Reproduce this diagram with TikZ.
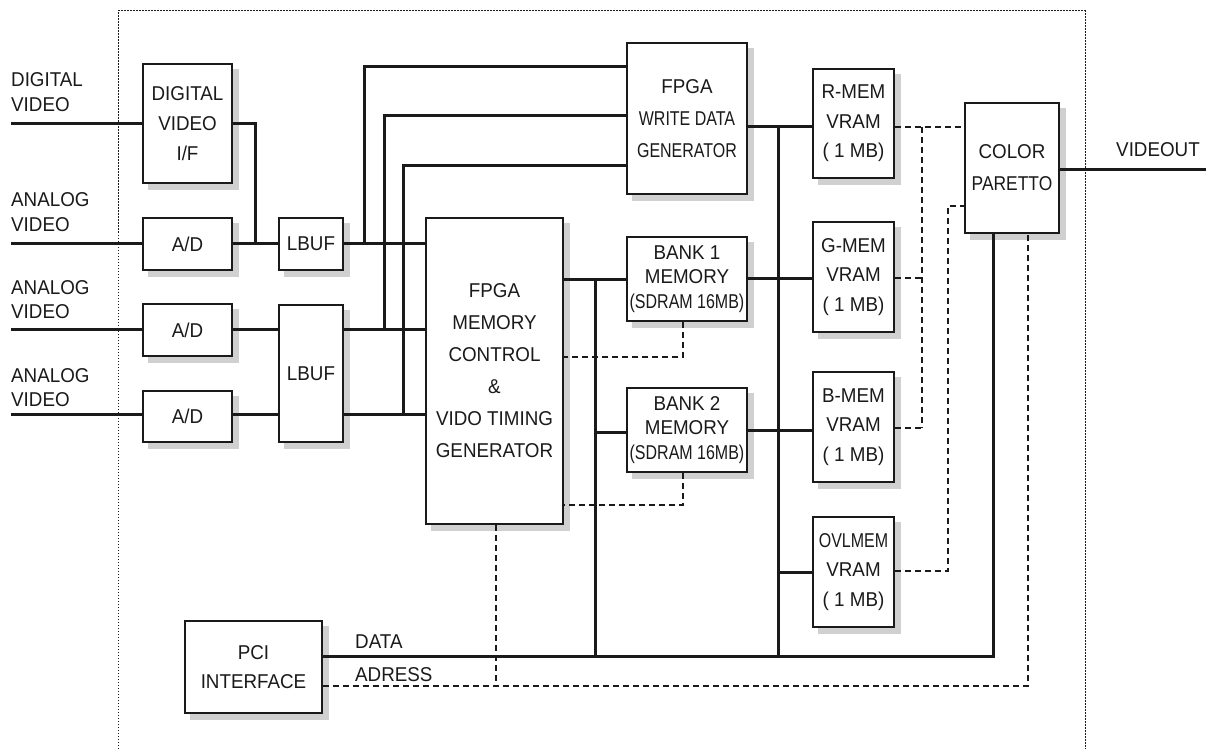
\documentclass[tikz,border=0pt]{standalone}
\usepackage{fontspec}
\setmainfont{Liberation Sans}[FakeStretch=0.94]
\newfontfamily\narrowfont{Liberation Sans}[FakeStretch=0.8]
\newfontfamily\midfont{Liberation Sans}[FakeStretch=0.87]
\usetikzlibrary{backgrounds}
\definecolor{ink}{HTML}{1A1A1A}
\definecolor{shade}{HTML}{D0D0D0}
\begin{document}
\begin{tikzpicture}[x=1pt,y=-1pt,
  box/.style={draw=ink, line width=1.5pt, fill=white, align=center, inner sep=0pt, text=ink,
    font=\fontsize{20}{30}\selectfont},
  wire/.style={draw=ink, line width=3pt},
  ctrl/.style={draw=ink, line width=1.2pt, dash pattern=on 6pt off 4pt},
  framed/.style={draw=ink, line width=1pt, dash pattern=on 1.5pt off 1.5pt},
  lbl/.style={text=ink, inner sep=0pt, anchor=base west, font=\fontsize{20}{25}\selectfont},
  shadowbox/.style={fill=shade, draw=none},
]
\useasboundingbox (0,0) rectangle (1209,749);

% frame
\draw[framed] (118,749) -- (118,11) -- (1085,11) -- (1085,749);

% boxes
\node[box, minimum width=89pt, minimum height=119pt] (dvif) at (187.5,123.5) {DIGITAL\\VIDEO\\I/F};
\node[box, minimum width=89pt, minimum height=52pt] (ad1) at (187.5,244) {A/D};
\node[box, minimum width=89pt, minimum height=52pt] (ad2) at (187.5,330) {A/D};
\node[box, minimum width=89pt, minimum height=51pt] (ad3) at (187.5,416.5) {A/D};
\node[box, minimum width=64pt, minimum height=52pt] (lbuf1) at (311,244) {LBUF};
\node[box, minimum width=64pt, minimum height=137pt] (lbuf2) at (311,373.5) {LBUF};
\node[box, minimum width=120pt, minimum height=151pt, font=\fontsize{20}{32}\selectfont] (wd) at (687,118.5)
  {FPGA\\{\narrowfont WRITE DATA}\\{\narrowfont GENERATOR}};
\node[box, minimum width=137pt, minimum height=306pt, font=\fontsize{20}{32}\selectfont] (mc) at (494.5,371)
  {FPGA\\MEMORY\\CONTROL\\\&\\VIDO TIMING\\GENERATOR};
\node[box, minimum width=120pt, minimum height=84pt, font=\fontsize{20}{24.5}\selectfont] (bank1) at (687,279)
  {BANK 1\\MEMORY\\{\narrowfont (SDRAM 16MB)}};
\node[box, minimum width=120pt, minimum height=84pt, font=\fontsize{20}{24.5}\selectfont] (bank2) at (687,430)
  {BANK 2\\MEMORY\\{\narrowfont (SDRAM 16MB)}};
\node[box, minimum width=81pt, minimum height=109pt, font=\fontsize{20}{29.5}\selectfont] (rmem) at (853.5,123.5)
  {R-MEM\\VRAM\\( 1 MB)};
\node[box, minimum width=81pt, minimum height=110pt, font=\fontsize{20}{29.5}\selectfont] (gmem) at (853.5,277)
  {G-MEM\\VRAM\\( 1 MB)};
\node[box, minimum width=81pt, minimum height=110pt, font=\fontsize{20}{29.5}\selectfont] (bmem) at (853.5,427)
  {B-MEM\\VRAM\\( 1 MB)};
\node[box, minimum width=81pt, minimum height=110pt, font=\fontsize{20}{29.5}\selectfont] (ovl) at (853.5,572)
  {{\narrowfont OVLMEM}\\VRAM\\( 1 MB)};
\node[box, minimum width=94pt, minimum height=130pt, font=\fontsize{20}{32}\selectfont] (color) at (1012,168)
  {COLOR\\{\midfont PARETTO}};
\node[box, minimum width=137pt, minimum height=92pt, font=\fontsize{20}{29}\selectfont] (pci) at (253.5,667)
  {PCI\\INTERFACE};

% shadows and white page, behind everything
\begin{scope}[on background layer]
  \fill[white] (0,0) rectangle (1209,749);
  \foreach \b in {dvif,ad1,ad2,ad3,lbuf1,lbuf2,wd,mc,bank1,bank2,rmem,gmem,bmem,ovl,color,pci}{
    \path[shadowbox] ([shift={(6,6)}]\b.north west) rectangle ([shift={(6,6)}]\b.south east);
  }
\end{scope}

% labels
\node[lbl] (tdv1) at (11,87) {DIGITAL};
\node[lbl] (tdv2) at (11,112) {VIDEO};
\node[lbl] (ta11) at (11,206.5) {ANALOG};
\node[lbl] (ta12) at (11,231.5) {VIDEO};
\node[lbl] (ta21) at (11,294) {ANALOG};
\node[lbl] (ta22) at (11,318.5) {VIDEO};
\node[lbl] (ta31) at (11,382) {ANALOG};
\node[lbl] (ta32) at (11,406.5) {VIDEO};
\node[lbl] (tvo) at (1116,157) {VIDEOUT};
\node[lbl] (tdata) at (355,648) {DATA};
\node[lbl] (taddr) at (355,681) {ADRESS};

% input wires
\coordinate (in0) at (11,124);
\coordinate (in1) at (11,243);
\coordinate (in2) at (11,329);
\coordinate (in3) at (11,414);
\coordinate (j0) at (255,243);
\draw[wire] (in0) -- (in0 -| dvif.west);
\draw[wire] (in1) -- (in1 -| ad1.west);
\draw[wire] (in2) -- (in2 -| ad2.west);
\draw[wire] (in3) -- (in3 -| ad3.west);
\draw[wire] (in0 -| dvif.east) -| (j0);
\draw[wire] (in1 -| ad1.east) -- (in1 -| lbuf1.west);
\draw[wire] (in1 -| lbuf1.east) -- (in1 -| mc.west);
\draw[wire] (in2 -| ad2.east) -- (in2 -| lbuf2.west);
\draw[wire] (in3 -| ad3.east) -- (in3 -| lbuf2.west);
\draw[wire] (in2 -| lbuf2.east) -- (in2 -| mc.west);
\draw[wire] (in3 -| lbuf2.east) -- (in3 -| mc.west);
\coordinate (w1) at (364,67);
\coordinate (w2) at (384,116);
\coordinate (w3) at (403,165);
\draw[wire] (w1 |- in1) -- (w1) -- (w1 -| wd.west);
\draw[wire] (w2 |- in2) -- (w2) -- (w2 -| wd.west);
\draw[wire] (w3 |- in3) -- (w3) -- (w3 -| wd.west);

% memory side
\coordinate (r0) at (778,127);
\coordinate (dat) at (993,656);
\coordinate (m1) at (595,279);
\coordinate (g0) at (778,278);
\coordinate (b2) at (595,432);
\coordinate (b0) at (778,430);
\coordinate (o0) at (778,572);
\coordinate (vo) at (1206,169);
\draw[wire] (r0 -| wd.east) -- (r0 -| rmem.west);
\draw[wire] (pci.east |- dat) -- (dat) -- (color.south -| dat);
\draw[wire] (r0) -- (r0 |- dat);
\draw[wire] (m1 -| mc.east) -- (m1 -| bank1.west);
\draw[wire] (m1) -- (m1 |- dat);
\draw[wire] (g0 -| bank1.east) -- (g0 -| gmem.west);
\draw[wire] (b2) -- (b2 -| bank2.west);
\draw[wire] (b0 -| bank2.east) -- (b0 -| bmem.west);
\draw[wire] (o0) -- (o0 -| ovl.west);
\draw[wire] (vo -| color.east) -- (vo);

% control (dashed)
\coordinate (k1) at (922,127);
\coordinate (k2) at (922,428);
\coordinate (k3) at (922,278);
\coordinate (k4) at (948,571);
\coordinate (k5) at (948,206);
\coordinate (q1) at (683,357);
\coordinate (q2) at (683,505);
\coordinate (q3) at (496,686);
\coordinate (adr) at (1028,686);
\draw[ctrl] (k1 -| rmem.east) -- (k1 -| color.west);
\draw[ctrl] (k1) -- (k2);
\draw[ctrl] (k3 -| gmem.east) -- (k3);
\draw[ctrl] (k2 -| bmem.east) -- (k2);
\draw[ctrl] (k4 -| ovl.east) -- (k4) -- (k5) -- (k5 -| color.west);
\draw[ctrl] (bank1.south -| q1) -- (q1) -- (q1 -| mc.east);
\draw[ctrl] (bank2.south -| q2) -- (q2) -- (q2 -| mc.east);
\draw[ctrl] (mc.south -| q3) -- (q3);
\draw[ctrl] (pci.east |- adr) -- (adr) -- (color.south -| adr);
\end{tikzpicture}
\end{document}
